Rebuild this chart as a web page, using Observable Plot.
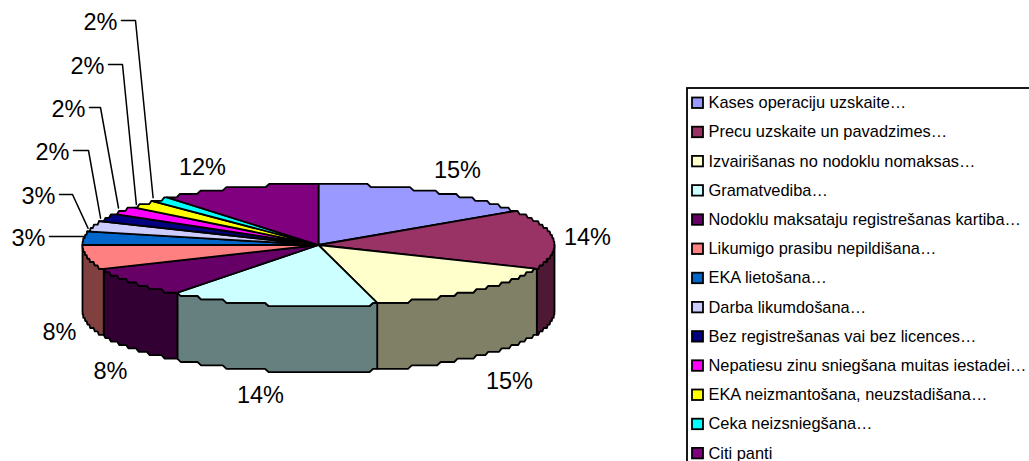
<!DOCTYPE html>
<html>
<head>
<meta charset="utf-8">
<script src="https://cdn.jsdelivr.net/npm/d3@7"></script>
<script src="https://cdn.jsdelivr.net/npm/@observablehq/plot@0.6"></script>
<style>
html,body{margin:0;padding:0;background:#fff;overflow:hidden}
svg{display:block}
</style>
</head>
<body>
<script>
// ---- data ----
const categories = [
  "Kases operaciju uzskaite…",
  "Precu uzskaite un pavadzimes…",
  "Izvairišanas no nodoklu nomaksas…",
  "Gramatvediba…",
  "Nodoklu maksataju registrešanas kartiba…",
  "Likumigo prasibu nepildišana…",
  "EKA lietošana…",
  "Darba likumdošana…",
  "Bez registrešanas vai bez licences…",
  "Nepatiesu zinu sniegšana muitas iestadei…",
  "EKA neizmantošana, neuzstadišana…",
  "Ceka neizsniegšana…",
  "Citi panti"
];
// slice shares as drawn in the picture (percent of the circle)
const shares = [15.7, 15.5, 14.8, 14.2, 8.0, 6.8, 3.2, 2.8, 2.7, 2.1, 1.7, 1.4, 11.1];
const percentLabels = ["15%","14%","15%","14%","8%","8%","3%","3%","2%","2%","2%","2%","12%"];
const topColors = ["#9999FF","#993366","#FFFFCC","#CCFFFF","#660066","#FF8080","#0066CC","#CCCCFF","#000080","#FF00FF","#FFFF00","#00FFFF","#800080"];
const sideColors = ["#4D4D80","#4D1933","#808066","#668080","#330033","#804040","#003366","#666680","#000040","#800080","#808000","#008080","#400040"];

// ---- layout ----
const W = 1029, H = 461;
const cx = 318, cy = 244.5, rx = 236, ry = 61, depth = 66, stairs = 3.4;
const labelX = [457, 587, 509, 260, 110, 59, 28, 38, 52, 68, 87, 100, 202];
const labelY = [170, 237, 381, 395, 371, 332, 238, 196, 152, 109, 66, 22, 167];
const leaderFlat = [0,0,0,0,0,0,34,13,15,11,14,14,0];
const legendLeft = 687, legendTop = 88, rowTop = 102.5, rowStep = 29.2;

const edge = (pct, drop = 0) => {
  const a = pct / 100 * 2 * Math.PI;
  const y = -Math.cos(a) * ry;
  return {x: cx + Math.sin(a) * rx, y: cy + Math.round(y / stairs) * stairs + drop};
};
const arc = (p0, p1, drop = 0) => {
  const n = Math.max(2, Math.ceil((p1 - p0) * 3.6));
  return d3.range(n + 1).map(i => edge(p0 + (p1 - p0) * i / n, drop));
};
let run = 0;
const slices = shares.map((s, i) => {
  const start = run; run += s;
  return {i, start, end: run, mid: start + s / 2};
});

const marks = [];
// side walls (only the front half of the rim: 25%..75% of the circle)
for (const s of slices) {
  const p0 = Math.max(s.start, 25), p1 = Math.min(s.end, 75);
  if (p1 <= p0) continue;
  const pts = [...arc(p0, p1), ...arc(p0, p1, depth).reverse()];
  pts.push(pts[0]);
  marks.push(Plot.line(pts, {x: "x", y: "y", fill: sideColors[s.i], stroke: "black", strokeWidth: 1.8}));
}
// top face
for (const s of slices) {
  const pts = [{x: cx, y: cy}, ...arc(s.start, s.end), {x: cx, y: cy}];
  marks.push(Plot.line(pts, {x: "x", y: "y", fill: topColors[s.i], stroke: "black", strokeWidth: 1.8}));
}
// leader lines
for (const s of slices) {
  if (!leaderFlat[s.i]) continue;
  const e = edge(s.start + shares[s.i] * 0.1);
  const lx = labelX[s.i] + 21;
  const ly = labelY[s.i] - 2;
  const elbow = {x: lx + leaderFlat[s.i], y: ly};
  const pts = s.start === 75 ? [{x: lx, y: ly}, elbow] : [{x: lx, y: ly}, elbow, {x: e.x, y: e.y - 3}];
  marks.push(Plot.line(pts, {x: "x", y: "y", stroke: "black", strokeWidth: 1.5}));
}
// percent labels
marks.push(Plot.text(percentLabels, {
  x: (d, i) => labelX[i], y: (d, i) => labelY[i], text: d => d,
  fontSize: 23.5, fill: "black", textAnchor: "middle", lineAnchor: "middle"
}));
// legend frame
marks.push(Plot.rect([0], {
  x1: () => legendLeft, x2: () => W + 20, y1: () => legendTop, y2: () => H + 20,
  fill: "white", stroke: "black", strokeWidth: 1.8
}));
// legend swatches + text
marks.push(Plot.rect(categories, {
  x1: () => 692, x2: () => 703,
  y1: (d, i) => rowTop + i * rowStep - 5, y2: (d, i) => rowTop + i * rowStep + 5.5,
  fill: (d, i) => topColors[i], stroke: "black", strokeWidth: 1.8
}));
marks.push(Plot.text(categories, {
  x: () => 708, y: (d, i) => rowTop + i * rowStep, text: d => d,
  fontSize: 16.4, fill: "black", textAnchor: "start", lineAnchor: "middle"
}));

const chart = Plot.plot({
  width: W, height: H,
  margin: 0,
  x: {domain: [0, W], range: [0, W], axis: null},
  y: {domain: [0, H], range: [0, H], axis: null},
  style: {fontFamily: "'Liberation Sans', Arial, sans-serif", background: "white", maxWidth: "none"},
  marks
});
document.body.appendChild(chart);
</script>
</body>
</html>
